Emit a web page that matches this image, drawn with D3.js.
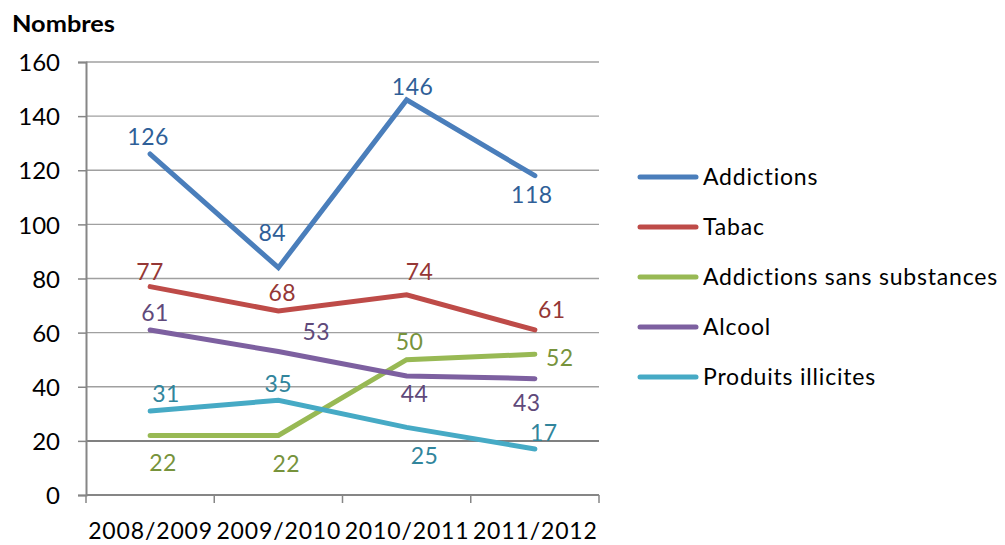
<!DOCTYPE html>
<html>
<head>
<meta charset="utf-8">
<script src="https://cdn.jsdelivr.net/npm/d3@7"></script>
<style>
	body { margin: 0; background: #fff; }
	text { font-family: Lato, "Open Sans", sans-serif; }
</style>
</head>
<body>
<svg id="chart" width="1005" height="545"></svg>
<script>
// data
let categories	= ['2008/2009', '2009/2010', '2010/2011', '2011/2012'];
let seriesNames	= ['Addictions', 'Tabac', 'Addictions sans substances', 'Alcool', 'Produits illicites'];
let addictions	= [126, 84, 146, 118];
let tabac		= [77, 68, 74, 61];
let sansSubst	= [22, 22, 50, 52];
let alcool		= [61, 53, 44, 43];
let illicites	= [31, 35, 25, 17];
let yTicks		= [0, 20, 40, 60, 80, 100, 120, 140, 160];

let lineColors	= ['#4a7ebb', '#be4b48', '#98b954', '#7d60a0', '#46aac5'];
let labelColors	= ['#2f5f98', '#953735', '#77933c', '#5f497a', '#31859c'];
// value label offsets from each point, [dx, dy]
let labelOffsets	= [
	[[-2, -17], [-6, -35], [6, -13], [-3, 19]],
	[[0, -15], [4, -18], [13, -23], [17, -20]],
	[[13, 27], [8, 28], [3, -18], [25, 3]],
	[[5, -17], [38, -20], [8, 18], [-8, 24]],
	[[16, -17], [0, -17], [18, 28], [9, -16]]
];

let values		= [addictions, tabac, sansSubst, alcool, illicites];

let svg		= d3.select('#chart');
let x		= d3.scaleBand().domain(categories).range([86, 599]);
let y		= d3.scaleLinear().domain([0, 160]).range([495, 62]);

// grid
svg.append('g').selectAll('line').data(yTicks.slice(1)).join('line')
	.attr('x1', 86).attr('x2', 599).attr('y1', (d) => y(d)).attr('y2', (d) => y(d))
	.style('stroke', (d) => d == 20 ? '#808080' : '#a0a0a0').style('stroke-width', (d) => d == 20 ? 2 : 1.3);

// y axis
let yAxis	= svg.append('g').attr('transform', 'translate(86,0)')
	.call(d3.axisLeft(y).tickValues(yTicks).tickSize(8).tickPadding(18));
yAxis.select('.domain').style('stroke', '#868686').style('stroke-width', 2);
yAxis.selectAll('line').style('stroke', '#868686').style('stroke-width', 1.5);
yAxis.selectAll('text').style('font-size', '24px').style('font-family', 'Lato').style('fill', '#000').attr('dy', '0.36em');

// x axis, ticks between categories
let xAxis	= svg.append('g').attr('transform', 'translate(0,495)');
xAxis.append('line').attr('x1', 86).attr('x2', 599).style('stroke', '#868686').style('stroke-width', 2);
xAxis.selectAll('.tk').data(categories.concat([null])).join('line').attr('class', 'tk')
	.attr('x1', (d, i) => i < categories.length ? x(d) : x.range()[1])
	.attr('x2', (d, i) => i < categories.length ? x(d) : x.range()[1])
	.attr('y1', 0).attr('y2', 8).style('stroke', '#868686').style('stroke-width', 1.5);
xAxis.selectAll('.lbl').data(categories).join('text').attr('class', 'lbl')
	.attr('x', (d) => x(d) + x.bandwidth() / 2).attr('y', 44)
	.attr('text-anchor', 'middle').attr('textLength', 124).attr('lengthAdjust', 'spacing')
	.style('font-size', '23px').text((d) => d);

svg.append('text').attr('x', 12).attr('y', 32).attr('textLength', 103).attr('lengthAdjust', 'spacingAndGlyphs')
	.style('font-size', '22px').style('font-weight', 'bold').text('Nombres');

// lines
let line	= d3.line().x((d, i) => x(categories[i]) + x.bandwidth() / 2).y((d) => y(d));

values.forEach((vals, s) => {
	svg.append('path').datum(vals).attr('d', line)
		.style('fill', 'none').style('stroke', lineColors[s]).style('stroke-width', 5)
		.style('stroke-linecap', 'round').style('stroke-linejoin', 'miter');
});

values.forEach((vals, s) => {
	svg.append('g').selectAll('text').data(vals).join('text')
		.attr('x', (d, i) => x(categories[i]) + x.bandwidth() / 2 + labelOffsets[s][i][0])
		.attr('y', (d, i) => y(d) + labelOffsets[s][i][1])
		.attr('dy', '0.36em').attr('text-anchor', 'middle')
		.style('font-size', '23px').style('letter-spacing', '0.5px').style('fill', labelColors[s])
		.text((d) => d);
});

// legend
let legend	= svg.append('g').selectAll('g').data(seriesNames).join('g')
	.attr('transform', (d, i) => 'translate(640,' + (177 + i * 50) + ')');
legend.append('line').attr('x1', 0).attr('x2', 56)
	.style('stroke', (d, i) => lineColors[i]).style('stroke-width', 5).style('stroke-linecap', 'round');
legend.append('text').attr('x', 63).attr('dy', '0.36em').style('font-size', '23px').style('letter-spacing', '0.8px').text((d) => d);
</script>
</body>
</html>
